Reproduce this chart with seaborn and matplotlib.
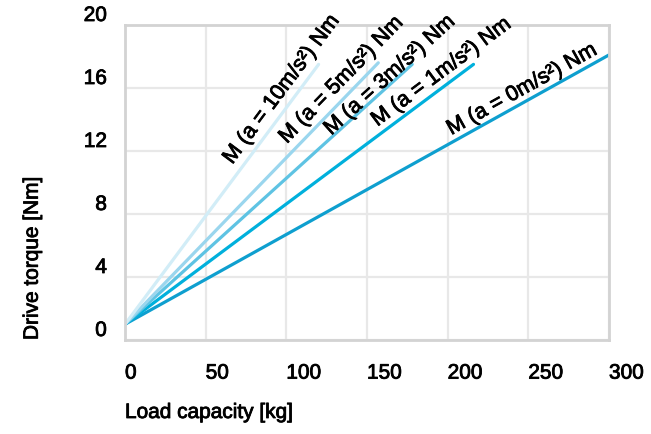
import numpy as np
import pandas as pd
import seaborn as sns
import matplotlib.pyplot as plt
import matplotlib.patheffects as pe

# data
accel = [0, 1, 3, 5, 10]                      # m/s^2
load_start = 0
torque_start = 1.0
load_end = [300, 216, 178, 157, 120]          # kg
torque_end = [18.1, 17.5, 17.5, 17.6, 17.5]   # Nm
x_ticks = [0, 50, 100, 150, 200, 250, 300]
y_ticks = [0, 4, 8, 12, 16, 20]

colors = ["#0e9fcf", "#00b0dc", "#5ec3e3", "#9ad6ee", "#d2edf7"]
# label centres (data coords) for the curve names
label_pos = [(246, 15.9), (196, 17.0), (164, 16.8), (134, 16.5), (97, 15.9)]

rows = []
for a, xe, ye in zip(accel, load_end, torque_end):
    rows.append({"a": a, "load": load_start, "torque": torque_start})
    rows.append({"a": a, "load": xe, "torque": ye})
df = pd.DataFrame(rows)

sns.set_style("whitegrid")
plt.rcParams["font.family"] = ["Liberation Sans", "DejaVu Sans"]
plt.rcParams["text.color"] = "black"
plt.rcParams["axes.labelcolor"] = "black"
plt.rcParams["xtick.color"] = "black"
plt.rcParams["ytick.color"] = "black"

# a thin stroke to get the heavier look of the original font
bold = [pe.withStroke(linewidth=0.6, foreground="black")]

fig = plt.figure(figsize=(6.51, 4.34), dpi=100)
ax = fig.add_axes([125 / 651, 1 - 340 / 434, 484 / 651, 315 / 434])

sns.lineplot(data=df, x="load", y="torque", hue="a", palette=dict(zip(accel, colors)),
             linewidth=2.3, legend=False, ax=ax, sort=False)

ax.set_xlim(0, 300)
ax.set_ylim(0, 20)
ax.set_xticks(x_ticks)
ax.set_yticks(y_ticks)
ax.grid(True, color="#e8e8e8", linewidth=1.6)
for s in ax.spines.values():
    s.set_color("#d3d3d3")
    s.set_linewidth(2)
ax.tick_params(axis="x", length=0, pad=17, labelsize=15)
ax.tick_params(axis="y", length=0, pad=13, labelsize=15)
for lab in ax.get_xticklabels():
    lab.set_horizontalalignment("left")
    lab.set_path_effects(bold)
for lab in ax.get_yticklabels():
    lab.set_verticalalignment("bottom")
    lab.set_path_effects(bold)

ax.set_xlabel("Load capacity [kg]", fontsize=15, loc="left", path_effects=bold)
ax.set_ylabel("Drive torque [Nm]", fontsize=15, loc="bottom", path_effects=bold)
ax.xaxis.set_label_coords(0, -0.2)
ax.yaxis.set_label_coords(-0.172, 0)

# curve names along the lines
for a, xe, ye, (lx, ly) in zip(accel, load_end, torque_end, label_pos):
    p0 = ax.transData.transform((load_start, torque_start))
    p1 = ax.transData.transform((xe, ye))
    ang = np.degrees(np.arctan2(p1[1] - p0[1], p1[0] - p0[0]))
    ax.text(lx, ly, f"M (a = {a}m/s²) Nm", fontsize=15.5, rotation=ang,
            ha="center", va="center", rotation_mode="anchor", clip_on=False,
            path_effects=bold)

fig.savefig("out.png", dpi=100)
